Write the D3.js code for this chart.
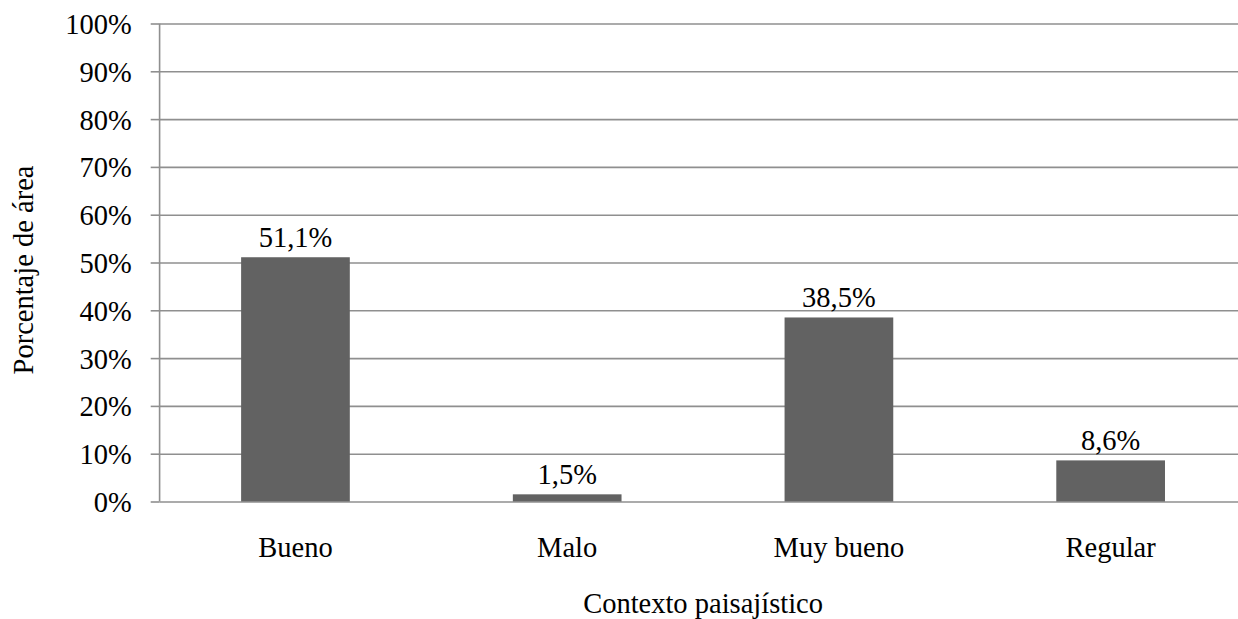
<!DOCTYPE html>
<html>
<head>
<meta charset="utf-8">
<script src="https://cdn.jsdelivr.net/npm/d3@7"></script>
<style>
  html, body { margin: 0; padding: 0; background: #fff; }
  svg text { font-family: "Liberation Serif", Tinos, "Times New Roman", Times, "DejaVu Serif", serif; fill: #000; }
</style>
</head>
<body>
<svg id="chart" width="1238" height="619"></svg>
<script>
// Distribución del área según contexto paisajístico
const categories = ["Bueno", "Malo", "Muy bueno", "Regular"];
const values = [51.1, 1.5, 38.5, 8.6];
const tickValues = [0, 10, 20, 30, 40, 50, 60, 70, 80, 90, 100];
const tickLabels = ["0%", "10%", "20%", "30%", "40%", "50%", "60%", "70%", "80%", "90%", "100%"];
const valueLabels = ["51,1%", "1,5%", "38,5%", "8,6%"];

const W = 1238, H = 619;
const plot = { left: 159.6, right: 1246.5, top: 23.5, bottom: 501.5 };
const fontSize = 28.5;
const serif = '"Liberation Serif", Tinos, "Times New Roman", Times, "DejaVu Serif", serif';
const gridColor = "#8f8f8f";
const barColor = "#626262";

const svg = d3.select("#chart");

const x = d3.scaleBand()
  .domain(categories)
  .range([plot.left, plot.right])
  .paddingInner(0.6)
  .paddingOuter(0.3);

const y = d3.scaleLinear()
  .domain([0, 100])
  .range([plot.bottom, plot.top]);

// horizontal gridlines, with short ticks left of the axis
const tickLen = plot.left - 150.7;
const yAxis = d3.axisLeft(y)
  .tickValues(tickValues)
  .tickFormat((d, i) => tickLabels[i])
  .tickSize(tickLen)
  .tickPadding(19);

const gy = svg.append("g")
  .attr("transform", `translate(${plot.left},0)`)
  .call(yAxis)
  .attr("font-family", serif);
gy.select(".domain").remove();
gy.selectAll(".tick line")
  .attr("stroke", gridColor)
  .attr("stroke-width", 1.6);
gy.selectAll(".tick")
  .append("line")
  .attr("x1", 0)
  .attr("x2", W - plot.left)
  .attr("stroke", gridColor)
  .attr("stroke-width", 1.6);
gy.selectAll(".tick text")
  .attr("font-size", fontSize)
  .attr("fill", "#000")
  .attr("dy", "0.35em");

// vertical axis line
svg.append("line")
  .attr("x1", plot.left).attr("x2", plot.left)
  .attr("y1", plot.top).attr("y2", plot.bottom)
  .attr("stroke", gridColor)
  .attr("stroke-width", 1.6);

// bars
svg.append("g")
  .selectAll("rect")
  .data(values)
  .join("rect")
  .attr("x", (d, i) => x(categories[i]))
  .attr("width", x.bandwidth())
  .attr("y", d => y(d))
  .attr("height", d => y(0) - y(d))
  .attr("fill", barColor);

// value labels above bars
svg.append("g")
  .attr("font-family", serif)
  .selectAll("text")
  .data(values)
  .join("text")
  .attr("x", (d, i) => x(categories[i]) + x.bandwidth() / 2)
  .attr("y", d => y(d) - 10.5)
  .attr("text-anchor", "middle")
  .attr("font-size", fontSize)
  .text((d, i) => valueLabels[i]);

// category labels
const xAxis = d3.axisBottom(x).tickSize(0).tickPadding(0);
const gx = svg.append("g")
  .attr("transform", `translate(0,${plot.bottom})`)
  .call(xAxis)
  .attr("font-family", serif);
gx.select(".domain").remove();
gx.selectAll(".tick text")
  .attr("font-size", fontSize)
  .attr("fill", "#000")
  .attr("y", 556.7 - plot.bottom)
  .attr("dy", 0);

// axis titles
svg.append("text")
  .attr("x", (plot.left + plot.right) / 2)
  .attr("y", 613)
  .attr("text-anchor", "middle")
  .attr("font-family", serif)
  .attr("font-size", fontSize)
  .text("Contexto paisajístico");

svg.append("text")
  .attr("transform", `translate(33,270) rotate(-90)`)
  .attr("text-anchor", "middle")
  .attr("font-family", serif)
  .attr("font-size", fontSize)
  .text("Porcentaje de área");
</script>
</body>
</html>
